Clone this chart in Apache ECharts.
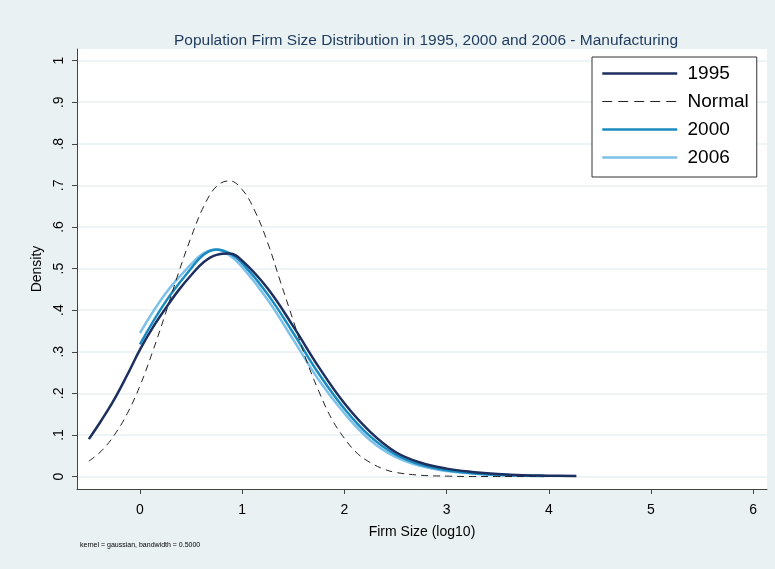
<!DOCTYPE html>
<html>
<head>
<meta charset="utf-8">
<title>Population Firm Size Distribution - Manufacturing</title>
<script src="https://cdn.jsdelivr.net/npm/echarts@6/dist/echarts.min.js"></script>
<style>
  html, body { margin: 0; padding: 0; background: #eaf1f3; }
  #chart { width: 775px; height: 569px; }
</style>
</head>
<body>
<div id="chart"></div>
<script>
// kernel density estimates (x = log10 firm size)
const x1995 = [-0.5, -0.375, -0.25, -0.125, 0, 0.125, 0.25, 0.375, 0.5, 0.625, 0.75, 0.875, 1.0, 1.25, 1.5, 1.75, 2.0, 2.25, 2.5, 2.75, 3.0, 3.25, 3.5, 3.75, 4.0, 4.27];
const y1995 = [0.090, 0.136, 0.186, 0.244, 0.305, 0.358, 0.404, 0.447, 0.484, 0.516, 0.533, 0.536, 0.519, 0.452, 0.361, 0.263, 0.176, 0.108, 0.059, 0.033, 0.019, 0.011, 0.006, 0.003, 0.002, 0.001];

const xNormal = [-0.5, -0.375, -0.25, -0.125, 0, 0.125, 0.25, 0.375, 0.5, 0.625, 0.75, 0.875, 1.0, 1.125, 1.25, 1.375, 1.5, 1.625, 1.75, 1.875, 2.0, 2.125, 2.25, 2.375, 2.5, 2.75, 3.0, 3.25, 3.5, 3.75, 4.0, 4.27];
const yNormal = [0.037, 0.062, 0.100, 0.151, 0.218, 0.301, 0.392, 0.488, 0.575, 0.650, 0.698, 0.711, 0.690, 0.638, 0.562, 0.468, 0.375, 0.282, 0.205, 0.139, 0.092, 0.056, 0.034, 0.019, 0.010, 0.003, 0.001, 0.0, 0.0, 0.0, 0.0, 0.0];

const x2000 = [0, 0.25, 0.5, 0.625, 0.75, 0.875, 1.0, 1.25, 1.5, 1.75, 2.0, 2.25, 2.5, 2.75, 3.0, 3.25, 3.5, 3.75, 3.95];
const y2000 = [0.318, 0.420, 0.500, 0.534, 0.546, 0.537, 0.513, 0.438, 0.345, 0.247, 0.163, 0.097, 0.053, 0.028, 0.015, 0.008, 0.004, 0.002, 0.001];

const x2006 = [0, 0.25, 0.5, 0.625, 0.75, 0.875, 1.0, 1.25, 1.5, 1.75, 2.0, 2.25, 2.5, 2.75, 3.0, 3.25, 3.5, 3.67];
const y2006 = [0.345, 0.440, 0.510, 0.537, 0.545, 0.532, 0.504, 0.425, 0.329, 0.232, 0.152, 0.088, 0.047, 0.025, 0.013, 0.007, 0.003, 0.002];

const xTicks = [0, 1, 2, 3, 4, 5, 6];
const yTicks = [0, 0.1, 0.2, 0.3, 0.4, 0.5, 0.6, 0.7, 0.8, 0.9, 1];
const yTickLabels = ['0', '.1', '.2', '.3', '.4', '.5', '.6', '.7', '.8', '.9', '1'];

const seriesNames = ['1995', 'Normal', '2000', '2006'];
const seriesColors = ['#1c2f5e', '#222222', '#1a8bbf', '#7dc0ea'];

function toPairs(xs, ys) {
  return xs.map((x, i) => [x, ys[i]]);
}

const chart = echarts.init(document.getElementById('chart'), null, { renderer: 'canvas' });

const axisColor = '#444444';
const font = '"Liberation Sans", Arial, sans-serif';

const option = {
  backgroundColor: '#eaf1f3',
  animation: false,
  textStyle: { fontFamily: font },
  title: {
    text: 'Population Firm Size Distribution in 1995, 2000 and 2006 - Manufacturing',
    left: 421,
    top: 28,
    textAlign: 'center',
    textStyle: { fontSize: 15.5, fontWeight: 'normal', color: '#1d3a5c', fontFamily: font },
  },
  grid: {
    left: 77,
    right: 8,
    top: 49,
    bottom: 80,
    show: true,
    backgroundColor: '#ffffff',
    borderWidth: 0,
  },
  legend: {
    orient: 'vertical',
    left: 592,
    top: 57,
    padding: [7, 8, 10, 9],
    itemGap: 9,
    itemWidth: 75,
    itemHeight: 14,
    backgroundColor: '#ffffff',
    borderColor: '#333333',
    borderWidth: 1,
    borderRadius: 0,
    formatter: (name) => ' ' + name,
    textStyle: { fontSize: 19, color: '#000000', fontFamily: font },
    data: seriesNames.map((name) => ({
      name,
      itemStyle: { color: 'rgba(0,0,0,0)', borderWidth: 0, opacity: 0 },
      lineStyle: name === 'Normal' ? { width: 1, type: [10, 6] } : { width: 2.5 },
    })),
  },
  xAxis: {
    type: 'value',
    min: -0.616,
    max: 6.135,
    name: 'Firm Size (log10)',
    nameLocation: 'middle',
    nameGap: 36,
    nameTextStyle: { fontSize: 14, color: '#000000' },
    axisLine: { show: true, onZero: false, lineStyle: { color: axisColor, width: 1 } },
    axisTick: { show: true, length: 5, customValues: xTicks, lineStyle: { color: axisColor } },
    axisLabel: { fontSize: 14, color: '#000000', margin: 14, customValues: xTicks },
    splitLine: { show: false },
  },
  yAxis: {
    type: 'value',
    min: -0.03,
    max: 1.028,
    name: 'Density',
    nameLocation: 'middle',
    nameGap: 32,
    nameTextStyle: { fontSize: 14, color: '#000000' },
    axisLine: { show: true, onZero: false, lineStyle: { color: axisColor, width: 1 } },
    axisTick: { show: true, length: 5, customValues: yTicks, lineStyle: { color: axisColor } },
    axisLabel: {
      fontSize: 14,
      color: '#000000',
      rotate: 90,
      margin: 11,
      customValues: yTicks,
      formatter: (v) => yTickLabels[Math.round(v * 10)],
    },
    splitLine: { show: true, lineStyle: { color: '#e8eff2', width: 1.5 } },
  },
  series: [
    {
      name: '1995',
      type: 'line',
      data: toPairs(x1995, y1995),
      smooth: 0.4,
      symbol: 'none',
      lineStyle: { color: seriesColors[0], width: 2.5 },
      itemStyle: { color: seriesColors[0] },
      z: 5,
    },
    {
      name: 'Normal',
      type: 'line',
      data: toPairs(xNormal, yNormal),
      smooth: 0.4,
      symbol: 'none',
      lineStyle: { color: seriesColors[1], width: 1, type: [7, 5] },
      itemStyle: { color: seriesColors[1] },
      z: 4,
    },
    {
      name: '2000',
      type: 'line',
      data: toPairs(x2000, y2000),
      smooth: 0.4,
      symbol: 'none',
      lineStyle: { color: seriesColors[2], width: 2.5 },
      itemStyle: { color: seriesColors[2] },
      z: 3,
    },
    {
      name: '2006',
      type: 'line',
      data: toPairs(x2006, y2006),
      smooth: 0.4,
      symbol: 'none',
      lineStyle: { color: seriesColors[3], width: 2.5 },
      itemStyle: { color: seriesColors[3] },
      z: 2,
    },
  ],
  graphic: [
    {
      type: 'text',
      left: 80,
      top: 542,
      style: {
        text: 'kernel = gaussian, bandwidth = 0.5000',
        fontSize: 7,
        fill: '#000000',
        fontFamily: font,
      },
    },
  ],
};

chart.setOption(option);
</script>
</body>
</html>
